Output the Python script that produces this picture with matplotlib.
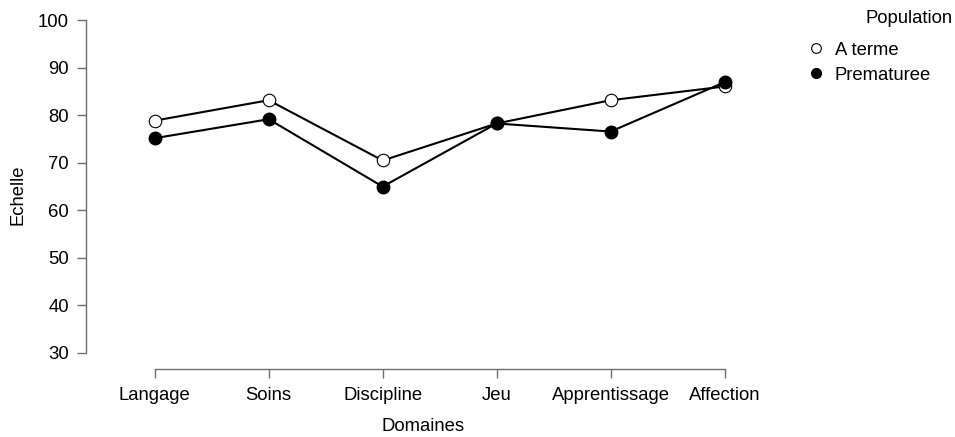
import matplotlib.pyplot as plt
from matplotlib.lines import Line2D
import numpy as np

plt.rcParams['font.family'] = ['Liberation Sans', 'DejaVu Sans']

domaines = ["Langage", "Soins", "Discipline", "Jeu", "Apprentissage", "Affection"]
a_terme = [78.9, 83.2, 70.5, 78.3, 83.2, 86.1]
prematuree = [75.2, 79.2, 65.0, 78.3, 76.6, 87.0]
yticks = [30, 40, 50, 60, 70, 80, 90, 100]

fs = 13.3

fig = plt.figure(figsize=(9.55, 4.37), dpi=100)
ax = fig.add_axes([0.0904, 0.1549, 0.7054, 0.7982])

x = np.arange(len(domaines))
ax.plot(x, a_terme, color='black', lw=1.5, marker='o', ms=9,
        mfc='white', mec='black', mew=0.8, zorder=3)
ax.plot(x, prematuree, color='black', lw=1.5, marker='o', ms=9,
        mfc='black', mec='black', zorder=4)

ax.set_xlim(-0.6, 5.31)
ax.set_ylim(26.5, 100)
ax.set_xticks(x)
ax.set_xticklabels(domaines)
ax.set_yticks(yticks)

for s in ['top', 'right']:
    ax.spines[s].set_visible(False)
ax.spines['left'].set_bounds(30, 100)
ax.spines['bottom'].set_bounds(0, 5)
for s in ['left', 'bottom']:
    ax.spines[s].set_color('#707070')
    ax.spines[s].set_linewidth(1.0)
ax.tick_params(axis='both', colors='#707070', labelcolor='black',
               length=6.5, width=1.0, labelsize=fs, pad=6)

ax.set_xlabel("Domaines", fontsize=fs, labelpad=10)
ax.set_ylabel("Echelle", fontsize=fs, labelpad=8)

handles = [
    Line2D([], [], ls='none', marker='o', ms=7, mfc='white', mec='black', mew=0.8),
    Line2D([], [], ls='none', marker='o', ms=7, mfc='black', mec='black'),
]
fig.text(0.997, 0.958, "Population", fontsize=fs, ha='right', va='center')
fig.legend(handles, ["A terme", "Prematuree"], loc='upper left',
           bbox_to_anchor=(0.843, 0.905), frameon=False, fontsize=fs,
           handletextpad=0.4, labelspacing=0.45, borderaxespad=0, borderpad=0,
           handlelength=1.2)

fig.savefig("out.png", dpi=100)
